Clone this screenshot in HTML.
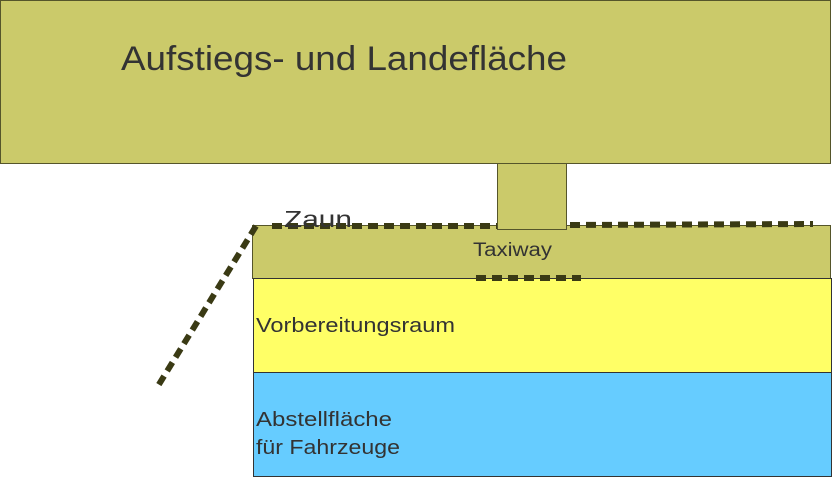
<!DOCTYPE html>
<html><head><style>
body{margin:0;width:833px;height:478px;background:#fff;overflow:hidden;font-family:"Liberation Sans",sans-serif}
</style></head><body>
<svg width="833" height="478" xmlns="http://www.w3.org/2000/svg" style="position:absolute;left:0;top:0">
<rect x="0.5" y="0.5" width="830" height="163" fill="#cbca6a" stroke="#55552a" stroke-width="1"/>
<rect x="252.5" y="225.5" width="578" height="53" fill="#cbca6a" stroke="#55552a" stroke-width="1"/>
<rect x="253.5" y="278.5" width="578" height="94" fill="#ffff66" stroke="#333" stroke-width="1"/>
<rect x="253.5" y="372.5" width="578" height="104" fill="#66ccff" stroke="#333" stroke-width="1"/>
<g stroke="#3a3a14" stroke-width="6" fill="none" stroke-dasharray="10,6">
<line x1="256" y1="226" x2="158" y2="386"/>
<line x1="272" y1="226" x2="497" y2="226"/>
<line x1="570" y1="225" x2="813" y2="224"/>
<line x1="476" y1="278" x2="581" y2="278"/>
</g>
<rect x="497.5" y="163.5" width="69" height="66" fill="#cbca6a" stroke="#55552a" stroke-width="1"/>
<text x="121" y="70" font-size="34" fill="#333" textLength="446" lengthAdjust="spacingAndGlyphs">Aufstiegs- und Landefläche</text>
<text x="284" y="227" font-size="23" fill="#333" textLength="68" lengthAdjust="spacingAndGlyphs">Zaun</text>
<text x="473" y="256" font-size="19" fill="#333" textLength="79" lengthAdjust="spacingAndGlyphs">Taxiway</text>
<text x="256" y="332" font-size="20" fill="#333" textLength="199" lengthAdjust="spacingAndGlyphs">Vorbereitungsraum</text>
<text x="256" y="426" font-size="20" fill="#333" textLength="136" lengthAdjust="spacingAndGlyphs">Abstellfläche</text>
<text x="256" y="454" font-size="20" fill="#333" textLength="144" lengthAdjust="spacingAndGlyphs">für Fahrzeuge</text>
</svg>
</body></html>
